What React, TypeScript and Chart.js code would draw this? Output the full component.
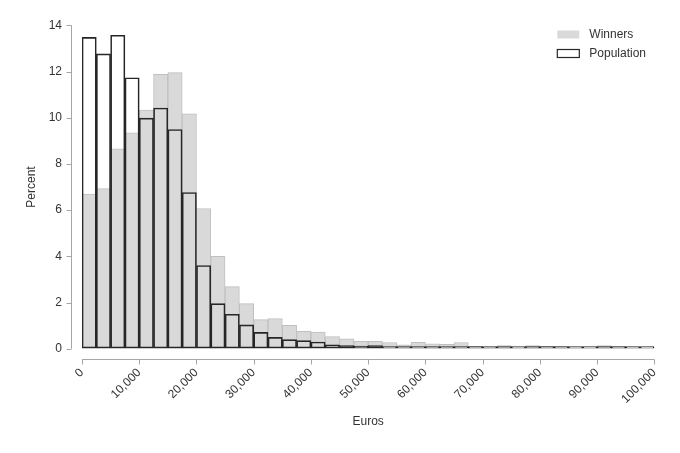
import { useEffect, useRef } from "react";
import { Chart, registerables } from "chart.js";

Chart.register(...registerables);

// Bin centres (2,500-euro bins from 0 to 100,000)
const binCenters = [
  1250, 3750, 6250, 8750, 11250, 13750, 16250, 18750, 21250, 23750,
  26250, 28750, 31250, 33750, 36250, 38750, 41250, 43750, 46250, 48750,
  51250, 53750, 56250, 58750, 61250, 63750, 66250, 68750, 71250, 73750,
  76250, 78750, 81250, 83750, 86250, 88750, 91250, 93750, 96250, 98750,
];

const winners = [
  6.69, 6.93, 8.65, 9.35, 10.33, 11.88, 11.95, 10.17, 6.07, 4.0,
  2.69, 1.95, 1.26, 1.3, 1.01, 0.75, 0.72, 0.52, 0.43, 0.32,
  0.32, 0.27, 0.17, 0.28, 0.21, 0.19, 0.27, 0.1, 0.07, 0.13,
  0.04, 0.14, 0.1, 0.09, 0.04, 0.03, 0.14, 0.09, 0.04, 0.03,
];

const population = [
  13.48, 12.76, 13.57, 11.73, 9.98, 10.42, 9.49, 6.76, 3.6, 1.95,
  1.49, 1.03, 0.71, 0.49, 0.39, 0.35, 0.29, 0.17, 0.13, 0.11,
  0.13, 0.07, 0.06, 0.07, 0.06, 0.04, 0.05, 0.08, 0.05, 0.04,
  0.04, 0.04, 0.03, 0.03, 0.03, 0.02, 0.03, 0.02, 0.02, 0.02,
];

const xTicks = [0, 10000, 20000, 30000, 40000, 50000, 60000, 70000, 80000, 90000, 100000];
const yTicks = [0, 2, 4, 6, 8, 10, 12, 14];

const FONT = '"Liberation Sans", Arial, Helvetica, sans-serif';
const AXIS_COLOR = "#a6a6a6";
const TEXT_COLOR = "#333333";

const axesPlugin = {
  id: "offsetAxes",
  afterDraw(chart: any) {
    const { ctx, chartArea, scales } = chart;
    const xs = scales.x;
    const ys = scales.y;
    ctx.save();
    ctx.strokeStyle = AXIS_COLOR;
    ctx.lineWidth = 1;
    // y axis
    const ax = Math.round(chartArea.left - 11) + 0.5;
    ctx.beginPath();
    ctx.moveTo(ax, ys.getPixelForValue(yTicks[0]));
    ctx.lineTo(ax, ys.getPixelForValue(yTicks[yTicks.length - 1]));
    yTicks.forEach((v) => {
      const py = Math.round(ys.getPixelForValue(v)) + 0.5;
      ctx.moveTo(ax - 5, py);
      ctx.lineTo(ax, py);
    });
    ctx.stroke();
    // x axis
    const ay = Math.round(chartArea.bottom + 10) + 0.5;
    ctx.beginPath();
    ctx.moveTo(xs.getPixelForValue(xTicks[0]), ay);
    ctx.lineTo(xs.getPixelForValue(xTicks[xTicks.length - 1]), ay);
    xTicks.forEach((v) => {
      const px = Math.round(xs.getPixelForValue(v)) + 0.5;
      ctx.moveTo(px, ay);
      ctx.lineTo(px, ay + 5);
    });
    ctx.stroke();

    // legend
    const lx = chartArea.right - 97;
    ctx.fillStyle = "#d9d9d9";
    ctx.fillRect(lx, 30.5, 22, 8);
    ctx.fillStyle = "#ffffff";
    ctx.fillRect(lx, 49.5, 22, 8);
    ctx.strokeStyle = "#262626";
    ctx.lineWidth = 1.2;
    ctx.strokeRect(lx, 49.5, 22, 8);
    ctx.fillStyle = TEXT_COLOR;
    ctx.font = `12px ${FONT}`;
    ctx.textBaseline = "middle";
    ctx.textAlign = "left";
    ctx.fillText("Winners", lx + 32, 35);
    ctx.fillText("Population", lx + 32, 54);
    ctx.restore();
  },
};

export default function App() {
  const ref = useRef<HTMLCanvasElement | null>(null);

  useEffect(() => {
    document.body.style.margin = "0";
    if (!ref.current) return;
    Chart.defaults.font.family = FONT;
    const chart = new Chart(ref.current, {
      type: "bar",
      data: {
        datasets: [
          {
            label: "Population",
            data: binCenters.map((x, i) => ({ x, y: population[i] })),
            backgroundColor: "rgba(0,0,0,0)",
            borderColor: "#262626",
            borderWidth: 1,
            borderSkipped: false,
            minBarLength: 2,
            order: 0,
            grouped: false,
            barPercentage: 1,
            categoryPercentage: 1,
          },
          {
            label: "Winners",
            data: binCenters.map((x, i) => ({ x, y: winners[i] })),
            backgroundColor: "#d9d9d9",
            borderColor: "#bfbfbf",
            borderWidth: 1,
            borderSkipped: false,
            order: 1,
            grouped: false,
            barPercentage: 1,
            categoryPercentage: 1,
          },
        ],
      } as any,
      options: {
        animation: false,
        responsive: true,
        maintainAspectRatio: false,
        layout: { padding: { top: 25.3, right: 25.7, left: 0, bottom: 0 } },
        plugins: { legend: { display: false }, tooltip: { enabled: false } },
        scales: {
          x: {
            type: "linear",
            min: 0,
            max: 100000,
            offset: false,
            afterFit: (s: any) => {
              s.height = 104.3;
            },
            afterBuildTicks: (s: any) => {
              s.ticks = xTicks.map((v) => ({ value: v }));
            },
            grid: {
              display: true,
              drawOnChartArea: false,
              drawTicks: true,
              tickLength: 15,
              color: "rgba(0,0,0,0)",
            },
            border: { display: false },
            ticks: {
              autoSkip: false,
              minRotation: 45,
              maxRotation: 45,
              padding: 2,
              color: TEXT_COLOR,
              font: { size: 12, family: FONT },
              callback: (v: any) => Number(v).toLocaleString("en-US"),
            },
            title: {
              display: true,
              text: "Euros",
              color: TEXT_COLOR,
              font: { size: 12, family: FONT },
              padding: { top: 0, bottom: 24 },
            },
          },
          y: {
            min: 0,
            max: 14,
            afterFit: (s: any) => {
              s.width = 82;
            },
            afterBuildTicks: (s: any) => {
              s.ticks = yTicks.map((v) => ({ value: v }));
            },
            grid: {
              display: true,
              drawOnChartArea: false,
              drawTicks: true,
              tickLength: 16,
              color: "rgba(0,0,0,0)",
            },
            border: { display: false },
            ticks: {
              autoSkip: false,
              padding: 4,
              color: TEXT_COLOR,
              font: { size: 12, family: FONT },
            },
            title: {
              display: true,
              text: "Percent",
              color: TEXT_COLOR,
              font: { size: 12, family: FONT },
              padding: { top: 24, bottom: 0 },
            },
          },
        },
      } as any,
      plugins: [axesPlugin],
    });
    return () => chart.destroy();
  }, []);

  return (
    <div style={{ position: "relative", width: 680, height: 453 }}>
      <canvas ref={ref} />
    </div>
  );
}
